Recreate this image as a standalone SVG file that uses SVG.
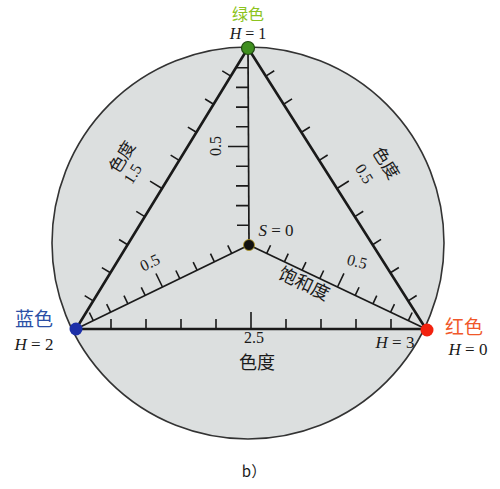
<svg xmlns="http://www.w3.org/2000/svg" width="500" height="489" viewBox="0 0 500 489">
<style>
.edge{stroke:#1a1a1a;stroke-width:2.6;fill:none;stroke-linecap:round}
.inner{stroke:#1a1a1a;stroke-width:1.7;fill:none}
.tick{stroke:#1a1a1a;stroke-width:1.6;fill:none}
.num{font-family:"Liberation Serif",serif;font-size:16px;fill:#1a1a1a}
.lab{font-family:"Liberation Serif",serif;font-size:17px;fill:#1a1a1a}
.cn{font-family:"Noto Sans CJK SC",sans-serif;font-size:17px;fill:#1a1a1a}
.it{font-style:italic}
</style>
<rect width="500" height="489" fill="#ffffff"/>
<g id="disc">
<circle cx="248" cy="243" r="196" fill="#dcdfdf" stroke="#333" stroke-width="1.6"/>
</g>
<g id="connectors">
<path class="edge" d="M248,48 L76,329 L426,329 Z"/>
<line class="inner" x1="249" y1="245" x2="76" y2="329"/>
<line class="inner" x1="249" y1="245" x2="426" y2="329"/>
<line class="inner" x1="248" y1="48" x2="249" y2="245"/>
<g id="ticks-left-edge">
<path class="tick" d="M230.8,76.1L222.27,70.88M213.6,104.2L205.07,98.98M196.4,132.3L187.87,127.08M179.2,160.4L170.67,155.18M162,188.5L150.06,181.19M144.8,216.6L136.27,211.38M127.6,244.7L119.07,239.48M110.4,272.8L101.87,267.58M93.2,300.9L84.67,295.68"/>
</g>
<g id="ticks-right-edge">
<path class="tick" d="M265.8,76.1L274.25,70.75M283.6,104.2L292.05,98.85M301.4,132.3L309.85,126.95M319.2,160.4L327.65,155.05M337,188.5L348.83,181.01M354.8,216.6L363.25,211.25M372.6,244.7L381.05,239.35M390.4,272.8L398.85,267.45M408.2,300.9L416.65,295.55"/>
</g>
<g id="ticks-bottom">
<path class="tick" d="M111,329V319M146,329V319M181,329V319M216,329V319M251,329V312M286,329V319M321,329V319M356,329V319M391,329V319"/>
</g>
<g id="ticks-vertical">
<path class="tick" d="M248.1,67.7H236M248.2,87.4H236M248.3,107.1H236M248.4,126.8H236M248.5,146.5H228M248.6,166.2H236M248.7,185.9H236M248.8,205.6H236M248.9,225.3H237"/>
</g>
<g id="ticks-left-inner">
<path class="tick" d="M231.7,253.4L227.77,245.3M214.4,261.8L210.47,253.7M197.1,270.2L193.17,262.1M179.8,278.6L175.87,270.5M162.5,287L155.95,273.51M145.2,295.4L141.27,287.3M127.9,303.8L123.97,295.7M110.6,312.2L106.67,304.1M93.3,320.6L89.37,312.5"/>
</g>
<g id="ticks-right-inner">
<path class="tick" d="M266.7,253.4L270.56,245.27M284.4,261.8L288.26,253.67M302.1,270.2L305.96,262.07M319.8,278.6L323.66,270.47M337.5,287L343.93,273.45M355.2,295.4L359.06,287.27M372.9,303.8L376.76,295.67M390.6,312.2L394.46,304.07M408.3,320.6L412.16,312.47"/>
</g>
</g>
<g id="node-green">
<circle cx="248" cy="48" r="6.5" fill="#3f8f1f" stroke="#1f4a10" stroke-width="1.2"/>
<text x="248" y="20" text-anchor="middle" class="cn" style="font-size:16px;fill:#8cc320">绿色</text>
<text x="248" y="39" text-anchor="middle" class="lab" style="font-size:16px"><tspan class="it">H</tspan> = 1</text>
</g>
<g id="node-blue">
<circle cx="76" cy="329" r="6.5" fill="#1c2fa8"/>
<text x="34" y="326" text-anchor="middle" class="cn" style="font-size:19px;fill:#2b4fa5">蓝色</text>
<text x="34" y="350" text-anchor="middle" class="lab"><tspan class="it">H</tspan> = 2</text>
</g>
<g id="node-red">
<circle cx="427" cy="330" r="6.5" fill="#f2220f"/>
<text x="464" y="334" text-anchor="middle" class="cn" style="font-size:19px;fill:#f0582a">红色</text>
<text x="468" y="355" text-anchor="middle" class="lab"><tspan class="it">H</tspan> = 0</text>
<text x="395" y="348" text-anchor="middle" class="lab"><tspan class="it">H</tspan> = 3</text>
</g>
<g id="node-center">
<circle cx="249" cy="245" r="5.5" fill="#111" stroke="#b89a20" stroke-width="0.8"/>
<text x="276" y="236" text-anchor="middle" class="lab"><tspan class="it">S</tspan> = 0</text>
</g>
<g id="labels">
<text class="num" text-anchor="middle" transform="translate(216,146) rotate(-90)" y="5">0.5</text>
<text class="cn" text-anchor="middle" transform="translate(122,157) rotate(-58.4)" y="6">色度</text>
<text class="num" text-anchor="middle" transform="translate(133,174) rotate(-58.4)" y="5">1.5</text>
<text class="cn" text-anchor="middle" transform="translate(386,163) rotate(57.7)" y="6">色度</text>
<text class="num" text-anchor="middle" transform="translate(364,174) rotate(57.7)" y="5">0.5</text>
<text class="num" text-anchor="middle" transform="translate(150,263) rotate(-25.9)" y="5">0.5</text>
<text class="num" text-anchor="middle" transform="translate(357,262) rotate(15)" y="5">0.5</text>
<text class="cn" text-anchor="middle" transform="translate(304,284) rotate(25.4)" y="6" style="font-size:18px">饱和度</text>
<text class="num" x="254" y="343" text-anchor="middle">2.5</text>
<text class="cn" x="257" y="369" text-anchor="middle" style="font-size:18px">色度</text>
<text class="cn" x="254" y="477" text-anchor="middle" style="font-size:15px">b）</text>
</g>
</svg>
